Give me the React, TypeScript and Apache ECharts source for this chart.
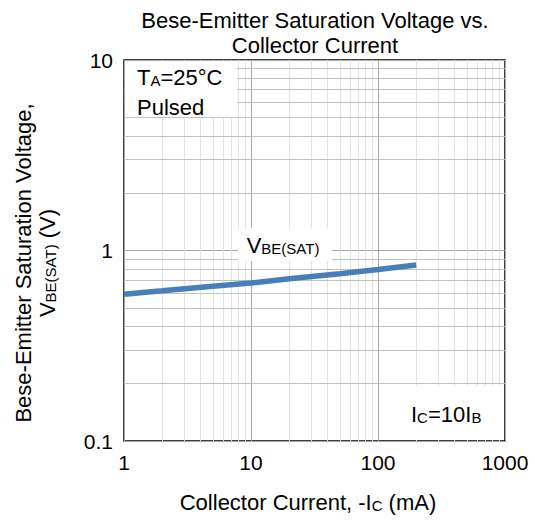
import React, { useEffect, useRef } from "react";
import * as echarts from "echarts";

const CURRENT_MA = [1, 2, 5, 10, 20, 50, 100, 200];
const VBE_SAT = [0.59, 0.615, 0.65, 0.675, 0.71, 0.755, 0.795, 0.84];
const X_MINOR = [2, 3, 4, 5, 6, 7, 8, 9, 20, 30, 40, 50, 60, 70, 80, 90, 200, 300, 400, 500, 600, 700, 800, 900];
const Y_MINOR = [0.2, 0.3, 0.4, 0.5, 0.6, 0.7, 0.8, 0.9, 2, 3, 4, 5, 6, 7, 8, 9];

const FONT = "Liberation Sans, Arial, sans-serif";
const FS = 22;
const TS = 21;
const SS = 15;

const rich = {
  m: { fontSize: FS, fontFamily: FONT, color: "#000", lineHeight: 24, verticalAlign: "bottom" },
  s: { fontSize: SS, fontFamily: FONT, color: "#000", lineHeight: 19, verticalAlign: "bottom" },
};

export default function App() {
  const ref = useRef<HTMLDivElement>(null);
  useEffect(() => {
    if (!ref.current) return;
    const chart = echarts.init(ref.current, null, { renderer: "svg" });
    const data = CURRENT_MA.map((c, i) => [c, VBE_SAT[i]]);
    const markData: any[] = [
      ...X_MINOR.map((v) => ({ xAxis: v, lineStyle: { color: "#e2e2e2", width: 1, type: "solid" } })),
      ...Y_MINOR.map((v) => ({ yAxis: v, lineStyle: { color: "#c2c2c2", width: 1, type: "solid" } })),
    ];
    chart.setOption({
      animation: false,
      grid: { left: 124, right: 30, top: 60, bottom: 81, show: true, borderColor: "#000", borderWidth: 1.5, backgroundColor: "transparent" },
      xAxis: {
        type: "log",
        logBase: 10,
        min: 1,
        max: 1000,
        axisLine: { show: false },
        axisTick: { show: false },
        axisLabel: { color: "#000", fontSize: TS, fontFamily: FONT, margin: 11, formatter: (v: number) => String(v) },
        splitLine: { show: true, lineStyle: { color: "#a8a8a8", width: 1 } },
      },
      yAxis: {
        type: "log",
        logBase: 10,
        min: 0.1,
        max: 10,
        axisLine: { show: false },
        axisTick: { show: false },
        axisLabel: { color: "#000", fontSize: TS, fontFamily: FONT, margin: 11, formatter: (v: number) => String(v) },
        splitLine: { show: true, lineStyle: { color: "#a8a8a8", width: 1 } },
      },
      series: [
        {
          type: "line",
          data,
          symbol: "none",
          lineStyle: { color: "#4a7ebb", width: 5.5 },
          z: 5,
          markLine: {
            silent: true,
            symbol: ["none", "none"],
            label: { show: false },
            animation: false,
            data: markData,
            z: 1,
          },
        },
      ],
      graphic: [
        {
          type: "text",
          x: 315,
          y: 33,
          style: {
            text: "Bese-Emitter Saturation Voltage vs.\nCollector Current",
            font: `${FS}px ${FONT}`,
            fill: "#000",
            align: "center",
            verticalAlign: "middle",
            lineHeight: 25,
          },
        },
        {
          type: "text",
          x: 34,
          y: 263,
          rotation: Math.PI / 2,
          style: {
            text: "{m|Bese-Emitter Saturation Voltage,}\n{m|V}{s|BE(SAT)}{m| (V)}",
            rich,
            align: "center",
            verticalAlign: "middle",
          },
        },
        {
          type: "text",
          x: 308,
          y: 501,
          style: {
            text: "{m|Collector Current, -I}{s|C}{m| (mA)}",
            rich,
            align: "center",
            verticalAlign: "middle",
          },
        },
        { type: "rect", shape: { x: 125, y: 61, width: 112, height: 56 }, style: { fill: "#fff" }, z: 10 },
        {
          type: "text",
          x: 137,
          y: 88,
          z: 11,
          style: {
            text: "{m|T}{s|A}{m|=25°C}\n{m|Pulsed}",
            rich: {
              m: { ...rich.m, lineHeight: 30 },
              s: { ...rich.s, lineHeight: 25 },
            },
            align: "left",
            verticalAlign: "middle",
          },
        },
        { type: "rect", shape: { x: 238, y: 228, width: 94, height: 33 }, style: { fill: "#fff" }, z: 10 },
        {
          type: "text",
          x: 283,
          y: 244,
          z: 11,
          style: { text: "{m|V}{s|BE(SAT)}", rich, align: "center", verticalAlign: "middle" },
        },
        { type: "rect", shape: { x: 379, y: 386, width: 125, height: 54 }, style: { fill: "#fff" }, z: 10 },
        {
          type: "text",
          x: 411,
          y: 413,
          z: 11,
          style: { text: "{m|I}{s|C}{m|=10I}{s|B}", rich, align: "left", verticalAlign: "middle" },
        },
      ],
    });
    return () => chart.dispose();
  }, []);
  return <div ref={ref} style={{ width: 535, height: 522, position: "absolute", left: 0, top: 0 }} />;
}
